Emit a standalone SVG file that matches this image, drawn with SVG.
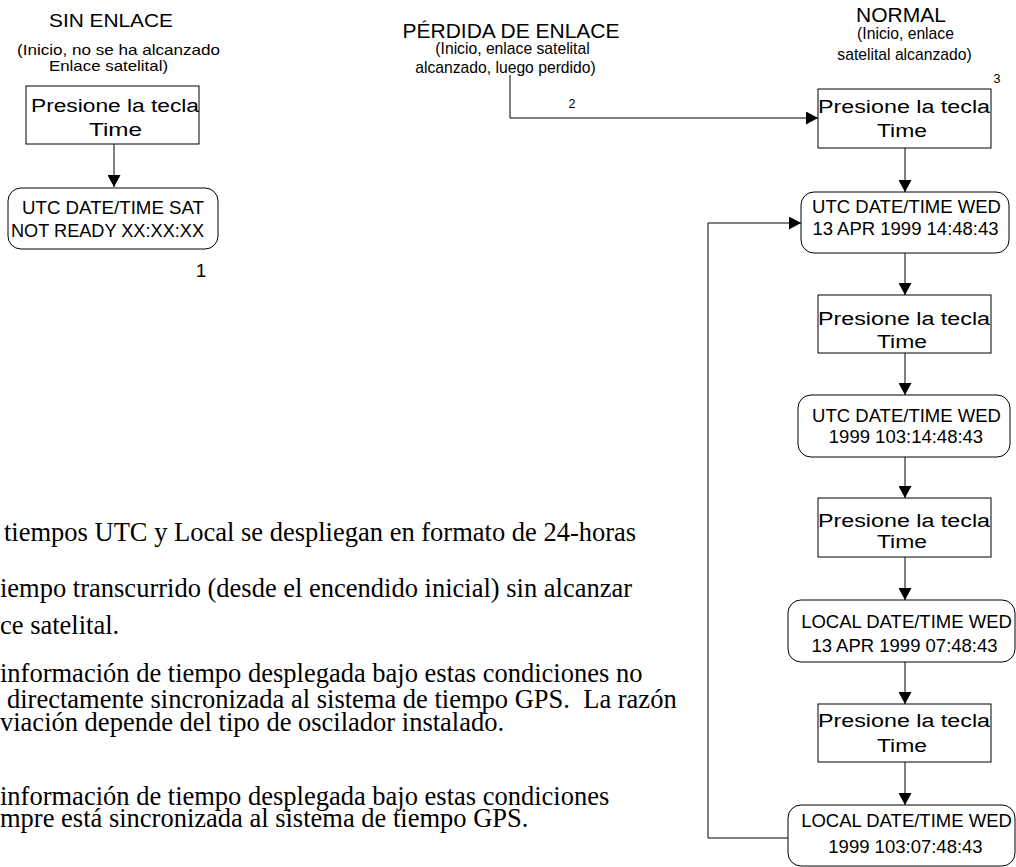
<svg xmlns="http://www.w3.org/2000/svg" width="1016" height="867" viewBox="0 0 1016 867">
<style>
.bg{fill:#fff}
.box{fill:#fff;stroke:#000;stroke-width:1}
.ln{fill:none;stroke:#000;stroke-width:1}
.g{font-family:"Liberation Sans",Arial,sans-serif;fill:#000}
.a{font-family:"Liberation Sans",Arial,sans-serif;fill:#000;font-size:18.5px;text-anchor:middle}
.h{font-family:"Liberation Sans",Arial,sans-serif;fill:#000;font-size:21px;text-anchor:middle}
.s{font-family:"Liberation Sans",Arial,sans-serif;fill:#000;font-size:15.7px;text-anchor:middle}
.n{font-family:"Liberation Serif","Times New Roman",serif;fill:#000;font-size:26.5px}
</style>
<defs>
<marker id="arr" markerWidth="12" markerHeight="13" refX="12" refY="6.5" orient="auto" markerUnits="userSpaceOnUse">
<path d="M0,0 L12,6.5 L0,13 Z" fill="#000"/>
</marker>
</defs>
<rect class="bg" x="0" y="0" width="1016" height="867"/>

<g id="headings">
<text class="g" x="111" y="27" font-size="18" text-anchor="middle" textLength="124" lengthAdjust="spacingAndGlyphs">SIN ENLACE</text>
<text class="g" x="118.5" y="55" font-size="14.5" text-anchor="middle" textLength="203" lengthAdjust="spacingAndGlyphs">(Inicio, no se ha alcanzado</text>
<text class="g" x="108.5" y="71" font-size="14.5" text-anchor="middle" textLength="119" lengthAdjust="spacingAndGlyphs">Enlace satelital)</text>
<text class="h" x="511" y="38">PÉRDIDA DE ENLACE</text>
<text class="s" x="512.5" y="54">(Inicio, enlace satelital</text>
<text class="s" x="505.5" y="73">alcanzado, luego perdido)</text>
<text class="h" x="901" y="22">NORMAL</text>
<text class="s" x="905.5" y="39">(Inicio, enlace</text>
<text class="s" x="904.5" y="60">satelital alcanzado)</text>
</g>

<g id="labels">
<text class="g" x="201" y="277" font-size="19" text-anchor="middle">1</text>
<text class="g" x="572" y="108" font-size="12.5" text-anchor="middle">2</text>
<text class="g" x="997" y="83" font-size="12.5" text-anchor="middle">3</text>
</g>

<g id="connectors">
<path class="ln" d="M114,144 V187" marker-end="url(#arr)"/>
<path class="ln" d="M510,75 V118 H818" marker-end="url(#arr)"/>
<path class="ln" d="M905,148 V192" marker-end="url(#arr)"/>
<path class="ln" d="M905,253 V295" marker-end="url(#arr)"/>
<path class="ln" d="M905,353 V395" marker-end="url(#arr)"/>
<path class="ln" d="M905,457 V498" marker-end="url(#arr)"/>
<path class="ln" d="M905,557 V600" marker-end="url(#arr)"/>
<path class="ln" d="M905,662 V704" marker-end="url(#arr)"/>
<path class="ln" d="M905,762 V805" marker-end="url(#arr)"/>
<path class="ln" d="M788,838 H708 V223 H801" marker-end="url(#arr)"/>
</g>

<g id="n1">
<rect class="box" x="26" y="86" width="173" height="58"/>
<text class="g" x="115" y="112" font-size="18" text-anchor="middle" textLength="168" lengthAdjust="spacingAndGlyphs">Presione la tecla</text>
<text class="g" x="115.5" y="136" font-size="18" text-anchor="middle" textLength="53" lengthAdjust="spacingAndGlyphs">Time</text>
</g>
<g id="n2">
<rect class="box" x="8" y="188" width="210" height="61" rx="13"/>
<text class="g" x="113" y="214" font-size="19" text-anchor="middle" textLength="182" lengthAdjust="spacingAndGlyphs">UTC DATE/TIME SAT</text>
<text class="g" x="107.5" y="237" font-size="19" text-anchor="middle" textLength="193" lengthAdjust="spacingAndGlyphs">NOT READY XX:XX:XX</text>
</g>

<g id="n3">
<rect class="box" x="818" y="89" width="173" height="59"/>
<text class="g" x="904" y="113" font-size="18" text-anchor="middle" textLength="172" lengthAdjust="spacingAndGlyphs">Presione la tecla</text>
<text class="g" x="902" y="137" font-size="18" text-anchor="middle" textLength="50" lengthAdjust="spacingAndGlyphs">Time</text>
</g>
<g id="n4">
<rect class="box" x="801" y="192" width="208" height="61" rx="13"/>
<text class="a" x="906.5" y="213">UTC DATE/TIME WED</text>
<text class="a" x="905.5" y="235">13 APR 1999 14:48:43</text>
</g>
<g id="n5">
<rect class="box" x="818" y="295" width="173" height="58"/>
<text class="g" x="904" y="325" font-size="18" text-anchor="middle" textLength="172" lengthAdjust="spacingAndGlyphs">Presione la tecla</text>
<text class="g" x="902" y="348" font-size="18" text-anchor="middle" textLength="50" lengthAdjust="spacingAndGlyphs">Time</text>
</g>
<g id="n6">
<rect class="box" x="798" y="395" width="212" height="62" rx="13"/>
<text class="a" x="906.5" y="422">UTC DATE/TIME WED</text>
<text class="a" x="906" y="443">1999 103:14:48:43</text>
</g>
<g id="n7">
<rect class="box" x="818" y="498" width="173" height="59"/>
<text class="g" x="904" y="527" font-size="18" text-anchor="middle" textLength="172" lengthAdjust="spacingAndGlyphs">Presione la tecla</text>
<text class="g" x="902" y="548" font-size="18" text-anchor="middle" textLength="50" lengthAdjust="spacingAndGlyphs">Time</text>
</g>
<g id="n8">
<rect class="box" x="788" y="600" width="227" height="62" rx="13"/>
<text class="a" x="906.5" y="628">LOCAL DATE/TIME WED</text>
<text class="a" x="904.5" y="652">13 APR 1999 07:48:43</text>
</g>
<g id="n9">
<rect class="box" x="818" y="704" width="173" height="58"/>
<text class="g" x="904" y="727" font-size="18" text-anchor="middle" textLength="172" lengthAdjust="spacingAndGlyphs">Presione la tecla</text>
<text class="g" x="902" y="752" font-size="18" text-anchor="middle" textLength="50" lengthAdjust="spacingAndGlyphs">Time</text>
</g>
<g id="n10">
<rect class="box" x="788" y="805" width="227" height="61" rx="13"/>
<text class="a" x="906.5" y="827">LOCAL DATE/TIME WED</text>
<text class="a" x="905.5" y="853">1999 103:07:48:43</text>
</g>

<g id="notes">
<text class="n" x="4" y="541">tiempos UTC y Local se despliegan en formato de 24-horas</text>
<text class="n" x="0" y="597">iempo transcurrido (desde el encendido inicial) sin alcanzar</text>
<text class="n" x="0" y="634">ce satelital.</text>
<text class="n" x="0" y="682">información de tiempo desplegada bajo estas condiciones no</text>
<text class="n" x="7" y="708" xml:space="preserve">directamente sincronizada al sistema de tiempo GPS.  La razón</text>
<text class="n" x="0" y="731">viación depende del tipo de oscilador instalado.</text>
<text class="n" x="0" y="805">información de tiempo desplegada bajo estas condiciones</text>
<text class="n" x="0" y="827">mpre está sincronizada al sistema de tiempo GPS.</text>
</g>
</svg>
